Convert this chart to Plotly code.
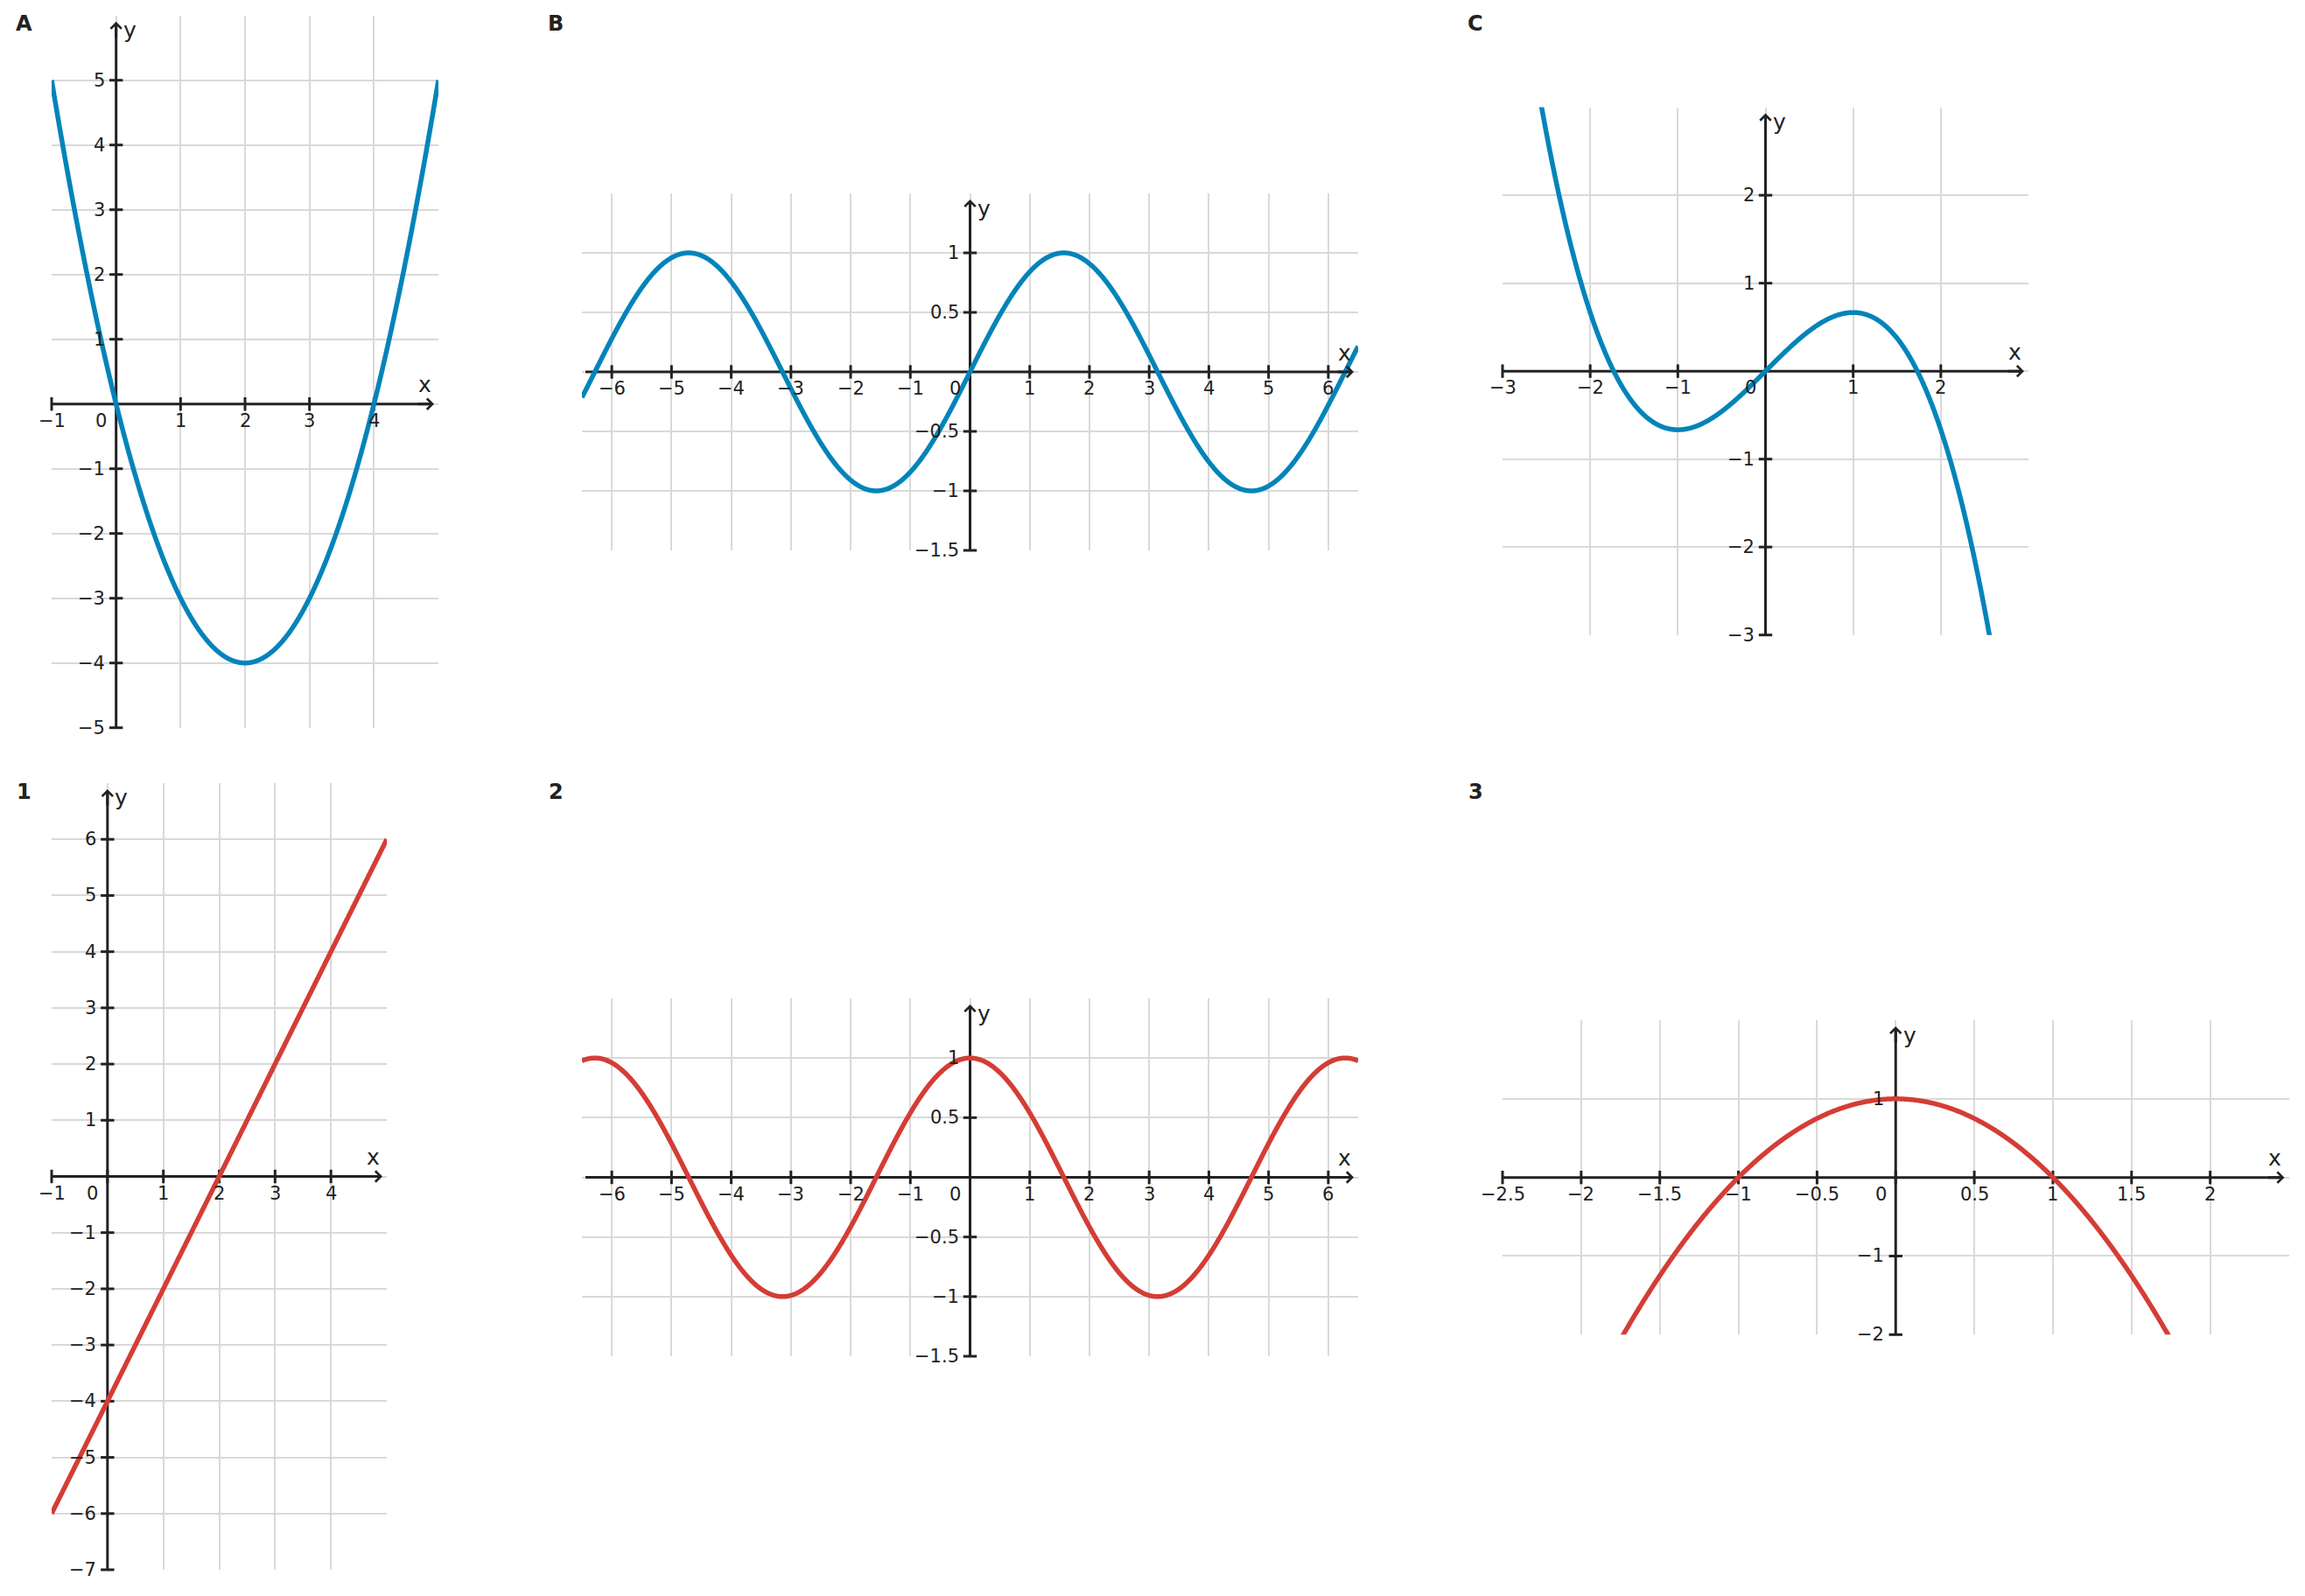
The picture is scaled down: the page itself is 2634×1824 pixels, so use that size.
import numpy as np
import plotly.graph_objects as go

W, H = 2634, 1824
DARK = "#222222"
GRID = "#d9d9d9"
BLUE = "#0284ba"
RED = "#d43d35"
FONT = "DejaVu Sans"

# ---------------- data ----------------
panel_names = ["A", "B", "C", "1", "2", "3"]

# A: parabola y = x^2 - 4x (coefficients, highest power first)
A_coeffs = [1, -4, 0]
# B: sine wave (amplitude, angular frequency, phase)
B_wave = [1.0, 1.0, 0.0]
# C: cubic y = -x^3/3 + x
C_coeffs = [-1 / 3, 0, 1, 0]
# 1: line y = 2x - 4
one_coeffs = [2, -4]
# 2: cosine wave (amplitude, angular frequency, phase)
two_wave = [1.0, 1.0, np.pi / 2]
# 3: parabola y = 1 - x^2
three_coeffs = [-1, 0, 1]

A_xrange = [-1, 5];      A_yrange = [-5, 6]
B_xrange = [-6.5, 6.5];  B_yrange = [-1.5, 1.5]
C_xrange = [-3, 3];      C_yrange = [-3, 3]
one_xrange = [-1, 5];    one_yrange = [-7, 7]
two_xrange = [-6.5, 6.5]; two_yrange = [-1.5, 1.5]
three_xrange = [-2.5, 2.5]; three_yrange = [-2, 2]

A_xticks = [-1, 0, 1, 2, 3, 4]
A_yticks = [5, 4, 3, 2, 1, -1, -2, -3, -4, -5]
B_xticks = [-6, -5, -4, -3, -2, -1, 0, 1, 2, 3, 4, 5, 6]
B_yticks = [1, 0.5, -0.5, -1, -1.5]
C_xticks = [-3, -2, -1, 0, 1, 2]
C_yticks = [2, 1, -1, -2, -3]
one_xticks = [-1, 0, 1, 2, 3, 4]
one_yticks = [6, 5, 4, 3, 2, 1, -1, -2, -3, -4, -5, -6, -7]
two_xticks = [-6, -5, -4, -3, -2, -1, 0, 1, 2, 3, 4, 5, 6]
two_yticks = [1, 0.5, -0.5, -1, -1.5]
three_xticks = [-2.5, -2, -1.5, -1, -0.5, 0, 0.5, 1, 1.5, 2]
three_yticks = [1, -1, -2]

# ---------------- layout boxes (pixels: left, top, right, bottom) ----------------
boxes = {
    "A": (59, 17.7, 501, 831.7),
    "B": (665, 221, 1552, 629),
    "C": (1717, 122.6, 2318, 725.7),
    "1": (59, 895, 442, 1794),
    "2": (665, 1141, 1552, 1550),
    "3": (1717, 1166, 2615.5, 1525.3),
}
label_pos = {"A": (27, 27), "B": (635, 27), "C": (1686, 27),
             "1": (27, 905), "2": (635, 905), "3": (1686, 905)}


def poly(coeffs):
    return lambda x: np.polyval(coeffs, x)


def wave(p):
    return lambda x: p[0] * np.sin(p[1] * x + p[2])


panels = [
    ("A", poly(A_coeffs), BLUE, A_xrange, A_yrange, A_xticks, A_yticks),
    ("B", wave(B_wave), BLUE, B_xrange, B_yrange, B_xticks, B_yticks),
    ("C", poly(C_coeffs), BLUE, C_xrange, C_yrange, C_xticks, C_yticks),
    ("1", poly(one_coeffs), RED, one_xrange, one_yrange, one_xticks, one_yticks),
    ("2", wave(two_wave), RED, two_xrange, two_yrange, two_xticks, two_yticks),
    ("3", poly(three_coeffs), RED, three_xrange, three_yrange, three_xticks, three_yticks),
]


def fmt(v):
    s = "%g" % v
    return s.replace("-", "\u2212")


fig = go.Figure()
annotations = []
layout = dict(width=W, height=H, autosize=False, margin=dict(l=0, r=0, t=0, b=0),
              paper_bgcolor="white", plot_bgcolor="white", showlegend=False,
              font=dict(family=FONT, color=DARK, size=21))
TICKFONT = dict(size=21, color=DARK, family=FONT)
NAMEFONT = dict(size=25, color=DARK, family=FONT)

for i, (name, f, color, xr, yr, xt, yt) in enumerate(panels):
    n = "" if i == 0 else str(i + 1)
    xa, ya = "x" + n, "y" + n
    l, t, r, b = boxes[name]
    pxu_x = (r - l) / (xr[1] - xr[0])
    pxu_y = (b - t) / (yr[1] - yr[0])

    layout["xaxis" + n] = dict(domain=[l / W, r / W], range=xr, tickvals=xt,
                               showticklabels=False, ticks="", showgrid=True,
                               gridcolor=GRID, gridwidth=2, zeroline=False,
                               showline=False, fixedrange=True, anchor=ya)
    layout["yaxis" + n] = dict(domain=[1 - b / H, 1 - t / H], range=yr, tickvals=yt + [0],
                               showticklabels=False, ticks="", showgrid=True,
                               gridcolor=GRID, gridwidth=2, zeroline=False,
                               showline=False, fixedrange=True, anchor=xa)

    # axis lines (below curve)
    x_start = xr[0] + (4 / pxu_x if name in ("B", "2") else 0)
    x_tip = xr[1] - 5 / pxu_x
    y_tip = yr[1] - 7 / pxu_y
    fig.add_trace(go.Scatter(x=[x_start, x_tip - 4 / pxu_x], y=[0, 0], mode="lines",
                             line=dict(color=DARK, width=3), xaxis=xa, yaxis=ya,
                             hoverinfo="skip"))
    fig.add_trace(go.Scatter(x=[0, 0], y=[yr[0], y_tip - 4 / pxu_y], mode="lines",
                             line=dict(color=DARK, width=3), xaxis=xa, yaxis=ya,
                             hoverinfo="skip"))

    # tick marks
    fig.add_trace(go.Scatter(x=xt, y=[0] * len(xt), mode="markers",
                             marker=dict(symbol="line-ns", size=11, line=dict(width=3, color=DARK)),
                             xaxis=xa, yaxis=ya, cliponaxis=False, hoverinfo="skip"))
    fig.add_trace(go.Scatter(x=[0] * len(yt), y=yt, mode="markers",
                             marker=dict(symbol="line-ew", size=11, line=dict(width=3, color=DARK)),
                             xaxis=xa, yaxis=ya, cliponaxis=False, hoverinfo="skip"))

    # curve
    xs = np.linspace(xr[0], xr[1], 1500)
    fig.add_trace(go.Scatter(x=xs, y=f(xs), mode="lines",
                             line=dict(color=color, width=5.5, simplify=False),
                             xaxis=xa, yaxis=ya, hoverinfo="skip"))

    # arrowheads
    annotations.append(dict(x=x_tip, y=0, ax=x_tip - 20 / pxu_x, ay=0, xref=xa, yref=ya,
                            axref=xa, ayref=ya, showarrow=True, arrowhead=4, arrowsize=0.8,
                            arrowwidth=3, arrowcolor=DARK, text="", standoff=0))
    annotations.append(dict(x=0, y=y_tip, ax=0, ay=y_tip - 20 / pxu_y, xref=xa, yref=ya,
                            axref=xa, ayref=ya, showarrow=True, arrowhead=4, arrowsize=0.8,
                            arrowwidth=3, arrowcolor=DARK, text="", standoff=0))
    # axis names
    annotations.append(dict(x=x_tip, y=0, xref=xa, yref=ya, text="x", showarrow=False,
                            xshift=-11, yshift=22, font=NAMEFONT))
    annotations.append(dict(x=0, y=y_tip, xref=xa, yref=ya, text="y", showarrow=False,
                            xshift=16, yshift=-10, font=NAMEFONT))

    # tick labels
    for v in xt:
        if v == 0:
            annotations.append(dict(x=0, y=0, xref=xa, yref=ya, text="0", showarrow=False,
                                    xshift=-17, yshift=-19, font=TICKFONT))
        else:
            annotations.append(dict(x=v, y=0, xref=xa, yref=ya, text=fmt(v), showarrow=False,
                                    yshift=-19, font=TICKFONT))
    for v in yt:
        annotations.append(dict(x=0, y=v, xref=xa, yref=ya, text=fmt(v), showarrow=False,
                                xanchor="right", xshift=-11, font=TICKFONT))

    # panel label
    lx, ly = label_pos[name]
    annotations.append(dict(x=lx / W, y=1 - ly / H, xref="paper", yref="paper",
                            xanchor="center", yanchor="middle", text="<b>%s</b>" % name,
                            showarrow=False, font=dict(size=24, color=DARK, family=FONT)))

layout["annotations"] = annotations
fig.update_layout(**layout)
fig.write_html("out.html")
